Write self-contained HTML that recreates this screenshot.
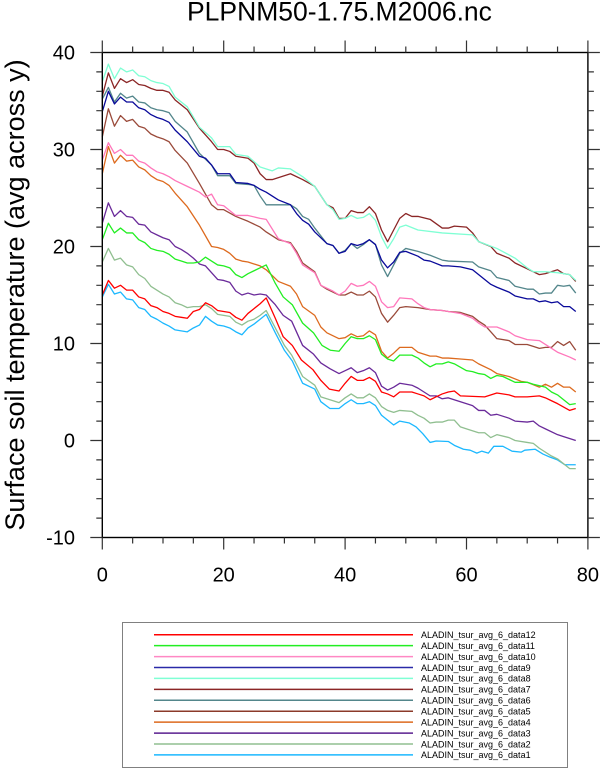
<!DOCTYPE html>
<html><head><meta charset="utf-8"><style>
html,body{margin:0;padding:0;background:#fff;}
svg{display:block;}
text{font-family:"Liberation Sans",Arial,sans-serif;fill:#000;}
</style></head><body>
<svg width="600" height="769" viewBox="0 0 600 769" xmlns="http://www.w3.org/2000/svg">
<rect width="600" height="769" fill="#fff"/>
<text x="187" y="20.5" font-size="26.5">PLPNM50-1.75.M2006.nc</text>
<text transform="translate(24,295) rotate(-90)" text-anchor="middle" font-size="27">Surface soil temperature (avg across y)</text>

<g transform="translate(102.3 440.5) scale(6.07 -9.7)" fill="none" stroke-width="1.3" stroke-linejoin="round">
<polyline vector-effect="non-scaling-stroke" stroke="#1cb8ff" points="0,14.8 1,16.1 2,15.1 3,15.3 4,14.6 5,14.5 6,13.7 7,13.5 8,12.8 9,12.5 10,12.1 11,11.8 12,11.4 13,11.3 14,11.2 15,11.6 16,11.9 17,12.8 18,12.3 19,11.9 20,11.8 21,11.6 22,11.2 23,10.9 24,11.6 25,12.0 26,12.5 27,13.0 28.5,11.1 30,9.3 31.3,8.2 33,5.9 35,5.3 36,4.0 37.5,3.3 39,3.3 40,3.8 41,4.2 42,3.8 43,3.8 44,4.0 45,3.6 46,2.6 47,2.1 48,1.6 49,2.0 50.6,1.8 51.7,1.4 52.8,0.7 54,-0.2 55,-0.05 57,-0.1 58,-0.5 59.5,-0.9 60.6,-1.0 61.7,-1.3 62.5,-1.1 63.6,-1.3 64.5,-0.6 66,-0.6 67.5,-1.1 69,-1.2 69.6,-1.0 71.3,-0.9 72.6,-1.4 73.7,-1.7 75,-2.0 76.2,-2.5 78,-2.5"/>
<polyline vector-effect="non-scaling-stroke" stroke="#90bf90" points="0,18.4 1,19.8 2,18.6 3,18.8 4,18.1 5,17.9 6,17.1 7,16.7 8,15.9 9,15.5 10,15.1 11,14.8 12,14.2 13,14.0 14,13.7 15,13.8 16,13.8 17,14.0 18,13.6 19,13.0 20,12.9 21,12.8 22,12.2 23,11.9 24,12.3 25,12.5 26,12.9 27,13.4 28.5,11.6 30,9.8 31.2,8.8 33,6.6 35,5.7 36,4.5 37.5,4.2 39,3.9 40,4.4 41,4.8 42,4.4 43,4.4 44,4.8 45,4.4 46,3.5 47,3.1 48,2.9 49,3.1 51,3.0 52,2.6 53,2.3 54,1.8 55,1.9 56,1.9 57,2.1 58,2.1 59,1.4 60,1.2 62,0.8 63,0.8 64,0.3 65,0.6 67,0.3 68,0.0 70,-0.2 71,-0.3 72,-0.8 74,-1.6 75,-1.9 76,-2.4 77,-2.9 78,-2.9"/>
<polyline vector-effect="non-scaling-stroke" stroke="#6a2a9a" points="0,22.4 1,24.5 2,23.1 3,23.7 4,23.1 5,23.0 6,22.3 7,22.2 8,21.5 9,21.2 10,20.9 11,20.7 12,20.0 13,19.7 14,19.3 15,18.8 16,18.2 17,18.0 19,16.6 20,16.5 21,16.3 22,15.4 23,15.0 24,15.2 25,15.0 26,15.1 27,15.0 28.5,14.0 29.8,12.9 31.2,12.3 33,9.8 34.8,8.9 36,8.0 37.5,7.4 39,6.9 40,7.2 41,7.5 42,7.0 43,7.2 44,7.5 45,7.0 46,5.6 47,5.2 48,5.5 49,5.9 51,5.7 52,5.4 53,5.0 54,4.6 55,4.6 56,4.3 57,4.4 59,4.0 61,3.6 62,3.1 63,3.1 64,2.6 65,2.7 67,2.3 68,2.0 70,1.9 71,2.0 72,1.5 73,1.2 75,0.6 76,0.4 78,0.0"/>
<polyline vector-effect="non-scaling-stroke" stroke="#dd6a1e" points="0,27.5 1,30.3 2,28.6 3,29.4 4,28.8 5,28.9 6,28.2 7,27.9 8,27.3 9,26.9 10,26.7 11,26.3 12,25.5 14,24.1 16,22.2 18,20.0 19,19.9 20,19.7 21,19.3 22,18.7 23,18.5 24,18.4 26,18.0 27,17.6 29,16.4 31,15.9 32,15.1 33,13.8 35,12.9 36,11.7 37,11.1 39,10.5 40,10.6 41,11.0 42,10.7 43,10.8 44,11.3 45,10.9 46,9.2 47,8.5 48,9.0 49,9.6 51,9.6 52,9.1 54,8.7 55,8.7 56,8.5 57,8.5 59,8.4 61,8.3 62,7.9 64,7.3 65,6.9 67,6.6 69,6.1 70,6.0 72,5.5 73,5.8 74,5.5 75,5.9 76,5.5 77,5.5 78,5.0"/>
<polyline vector-effect="non-scaling-stroke" stroke="#9a4a3a" points="0,31.3 1,34.2 2,32.4 3,33.5 4,32.9 5,33.1 6,32.4 7,32.2 8,31.6 9,31.3 10,31.1 11,30.8 12,29.9 14,28.6 16,26.5 18,24.3 19,23.8 20,23.8 22,23.1 24,22.6 26,22.0 27,21.5 29,20.7 31,20.4 32,19.5 33,18.3 35,17.4 36,16.0 37,15.6 39,15.0 40,15.0 41,15.3 42,15.0 43,15.0 44,15.4 45,14.8 46,13.1 47,12.2 48,12.9 49,13.7 50,13.8 52,13.7 54,13.5 56,13.4 57,13.3 59,13.2 61,12.8 62,12.3 63,11.9 64,11.2 65,10.5 67,10.3 68,9.9 70,9.9 71,9.7 72,9.5 73,9.6 74,9.6 75,10.2 76,9.8 77,10.2 78,9.3"/>
<polyline vector-effect="non-scaling-stroke" stroke="#53868b" points="0,35.2 1,36.4 2,34.9 3,35.8 4,35.3 5,35.5 6,34.9 7,34.8 8,34.3 9,34.1 10,34.0 11,33.8 12,32.9 14,31.8 16,29.6 18,28.4 19,27.3 21,27.3 22,26.5 24,26.4 25,26.3 26,25.2 27,24.3 29,24.3 31,24.3 32,23.9 33,23.1 34,22.8 35,21.9 37,20.3 38,20.1 39,19.3 40,19.6 41,20.3 42,19.8 43,20.2 44,20.7 45,20.2 46,18.1 47,16.9 48,18.1 49,19.3 50,19.8 52,19.5 54,19.1 56,18.6 57,18.5 61,18.4 62,17.9 64,17.5 65,16.8 67,16.5 68,15.9 70,15.6 71,15.6 72,15.1 73,15.2 74,15.2 75,16.0 76,15.9 77,16.0 78,15.2"/>
<polyline vector-effect="non-scaling-stroke" stroke="#8b2626" points="0,35.5 1,37.9 2,36.3 3,37.3 4,36.9 5,37.2 6,36.7 7,36.6 8,36.3 9,36.1 10,36.1 11,35.9 12,35.1 14,34.1 16,32.2 18,30.8 19,30.0 20,30.0 21,29.8 22,29.3 24,29.1 25,28.6 26,27.5 27,26.9 28,26.9 31,27.5 33,26.9 35,26.2 37,24.3 38,24.0 39,22.9 40,22.9 41,23.7 42,23.5 43,23.5 44,24.1 45,23.4 46,21.7 47,20.5 48,21.7 49,22.9 50,23.4 51,23.1 52,23.1 54,22.8 56,21.9 57,21.9 58,22.1 60,22.0 61,21.4 62,20.5 64,20.0 65,19.3 67,18.8 68,18.3 70,17.7 72,17.1 73,17.2 75,17.6 76,17.2 77,17.1 78,16.4"/>
<polyline vector-effect="non-scaling-stroke" stroke="#7fffd4" points="0,37.0 1,38.8 2,37.3 3,38.4 4,38.0 5,38.2 6,37.6 7,37.5 8,37.1 9,36.9 10,36.8 11,36.5 12,35.4 14,34.4 16,32.3 18,31.2 19,30.3 21,30.3 22,29.5 24,29.3 26,28.2 28,27.8 29,28.1 31,28.0 33,27.2 35,26.2 37,24.3 38,23.8 39,22.8 40,22.9 41,23.2 42,22.9 43,23.0 44,23.4 45,22.7 46,21.0 47,19.8 48,20.8 49,22.0 50,22.2 52,21.7 56,21.4 61,21.2 62,20.5 65,19.8 68,18.8 70,17.8 71,17.4 73,17.4 75,17.3 77,17.1 78,16.5"/>
<polyline vector-effect="non-scaling-stroke" stroke="#0a0a9a" points="0,33.9 1,36.0 2,34.7 3,35.4 4,34.9 5,34.9 6,34.3 7,34.1 8,33.6 9,33.3 10,33.1 11,32.8 12,32.0 14,30.8 16,29.3 17,29.1 18,28.4 19,27.5 21,27.5 22,26.6 24,26.5 25,26.3 26,25.9 27,25.6 28,25.2 29,24.8 31,24.3 32,23.4 33,22.7 34,22.3 35,21.5 37,20.3 38,20.1 39,19.3 40,19.5 41,20.3 42,20.1 43,20.3 44,20.7 45,20.2 46,18.6 47,17.8 48,18.4 49,19.4 50,19.5 52,19.0 53,18.6 54,18.5 56,18.0 57,18.0 59,17.9 61,17.6 62,17.1 64,16.1 65,15.8 67,15.3 68,14.9 70,14.6 71,14.6 72,14.3 73,14.4 74,14.2 75,14.3 76,13.8 77,13.8 78,13.3"/>
<polyline vector-effect="non-scaling-stroke" stroke="#ff77bb" points="0,28.9 1,30.7 2,29.6 3,30.0 4,29.4 5,29.4 6,28.8 7,28.6 8,28.1 9,27.7 10,27.5 11,27.2 12,26.8 14,26.2 16,25.6 17,25.1 18,25.4 19,24.3 20,24.2 22,23.2 24,23.2 26,22.9 27,22.8 29,20.8 31,20.3 32,19.3 33,18.1 35,17.3 36,16.0 38,15.4 39,15.0 40,15.4 41,16.2 42,15.9 43,16.0 44,16.4 45,15.9 46,14.3 47,13.7 48,13.8 49,14.7 51,14.6 52,14.1 53,13.7 54,13.5 56,13.4 57,13.3 59,13.1 61,12.6 62,12.1 63,11.7 65,11.7 67,11.2 68,10.8 70,10.4 72,10.3 73,9.9 74,9.5 75,9.1 77,8.6 78,8.3"/>
<polyline vector-effect="non-scaling-stroke" stroke="#22ee22" points="0,20.7 1,22.4 2,21.4 3,21.9 4,21.4 5,21.4 6,20.7 7,20.4 8,19.8 9,19.6 10,19.5 11,19.2 12,18.7 13,18.5 14,18.3 15,18.3 16,18.4 17,18.9 18,18.5 19,18.1 20,18.0 21,17.8 22,17.1 23,16.8 24,17.2 25,17.5 26,17.8 27,18.1 28.5,16.2 29.8,14.8 31.3,14.0 33,12.1 34.8,11.1 36.2,9.8 37.6,9.3 39,9.2 40,10.0 41,10.7 42,10.5 43,10.5 44,10.8 45,10.4 46,8.9 47,8.4 48,8.2 49,8.8 51,8.8 52,8.5 53,8.0 54,7.6 55,7.9 56,7.9 57,8.1 58,7.9 60,7.2 61,7.1 62,6.9 63,6.8 64,6.4 65,6.7 66,6.6 67,6.3 68,6.0 70,6.0 71,5.8 73,5.5 74,5.0 75,4.7 76,4.2 77,3.7 78,3.8"/>
<polyline vector-effect="non-scaling-stroke" stroke="#ff0000" points="0,15.0 1,16.5 2,15.7 3,16.0 4,15.5 5,15.5 6,14.8 7,14.6 8,13.9 9,13.7 10,13.3 11,13.1 12,12.8 13,12.7 14,12.6 15,13.3 16,13.5 17,14.2 18,13.9 19,13.4 20,13.3 21,13.2 22,12.7 23,12.4 24,13.1 25,13.6 26,14.1 27,14.7 28.5,12.6 29.8,10.7 31.3,9.8 32.8,8.3 34.7,7.3 36,6.2 37.4,5.3 39,5.1 40,5.9 41,6.6 42,6.2 43,6.2 44,6.5 45,6.1 46,5.0 47,4.8 48,4.5 49,5.0 51,5.0 52,4.8 53,4.6 54,4.2 55,4.5 56,4.8 57,5.0 58,5.1 59,4.6 63,4.5 65,4.9 67,4.7 68,4.5 70,4.5 72,4.6 73,4.4 74,4.1 75,3.8 77,3.1 78,3.3"/>
</g>

<!-- frame -->
<rect x="102.3" y="52.5" width="485.6" height="485" fill="none" stroke="#000" stroke-width="1.4"/>
<!-- ticks -->
<g stroke="#333" stroke-width="1.2" fill="none">
<path d="M102.3 537.5V549.5M223.7 537.5V549.5M345.1 537.5V549.5M466.5 537.5V549.5M587.9 537.5V549.5"/>
<path d="M132.65 537.5V543.5M163 537.5V543.5M193.35 537.5V543.5M254.05 537.5V543.5M284.4 537.5V543.5M314.75 537.5V543.5M375.45 537.5V543.5M405.8 537.5V543.5M436.15 537.5V543.5M496.85 537.5V543.5M527.2 537.5V543.5M557.55 537.5V543.5"/>
<path d="M102.3 52.5V40.5M223.7 52.5V40.5M345.1 52.5V40.5M466.5 52.5V40.5M587.9 52.5V40.5"/>
<path d="M132.65 52.5V46.5M163 52.5V46.5M193.35 52.5V46.5M254.05 52.5V46.5M284.4 52.5V46.5M314.75 52.5V46.5M375.45 52.5V46.5M405.8 52.5V46.5M436.15 52.5V46.5M496.85 52.5V46.5M527.2 52.5V46.5M557.55 52.5V46.5"/>
<path d="M102.3 52.5H90.3M102.3 149.5H90.3M102.3 246.5H90.3M102.3 343.5H90.3M102.3 440.5H90.3M102.3 537.5H90.3"/>
<path d="M102.3 71.9H96.3M102.3 91.3H96.3M102.3 110.7H96.3M102.3 130.1H96.3M102.3 168.9H96.3M102.3 188.3H96.3M102.3 207.7H96.3M102.3 227.1H96.3M102.3 265.9H96.3M102.3 285.3H96.3M102.3 304.7H96.3M102.3 324.1H96.3M102.3 362.9H96.3M102.3 382.3H96.3M102.3 401.7H96.3M102.3 421.1H96.3M102.3 459.9H96.3M102.3 479.3H96.3M102.3 498.7H96.3M102.3 518.1H96.3"/>
<path d="M587.9 52.5H599.9M587.9 149.5H599.9M587.9 246.5H599.9M587.9 343.5H599.9M587.9 440.5H599.9M587.9 537.5H599.9"/>
<path d="M587.9 71.9H593.9M587.9 91.3H593.9M587.9 110.7H593.9M587.9 130.1H593.9M587.9 168.9H593.9M587.9 188.3H593.9M587.9 207.7H593.9M587.9 227.1H593.9M587.9 265.9H593.9M587.9 285.3H593.9M587.9 304.7H593.9M587.9 324.1H593.9M587.9 362.9H593.9M587.9 382.3H593.9M587.9 401.7H593.9M587.9 421.1H593.9M587.9 459.9H593.9M587.9 479.3H593.9M587.9 498.7H593.9M587.9 518.1H593.9"/>
</g>
<!-- tick labels -->
<g font-size="20" text-anchor="end">
<text x="75" y="59.7">40</text>
<text x="75" y="156.7">30</text>
<text x="75" y="253.7">20</text>
<text x="75" y="350.7">10</text>
<text x="75" y="447.7">0</text>
<text x="75" y="544.7">-10</text>
</g>
<g font-size="20" text-anchor="middle">
<text x="102.3" y="581.5">0</text>
<text x="223.7" y="581.5">20</text>
<text x="345.1" y="581.5">40</text>
<text x="466.5" y="581.5">60</text>
<text x="587.9" y="581.5">80</text>
</g>

<!-- legend -->
<rect x="122.5" y="622.5" width="445" height="145" fill="none" stroke="#808080" stroke-width="1"/>
<g stroke-width="1.5">
<line x1="154" x2="413" y1="634.7" y2="634.7" stroke="#ff0000"/>
<line x1="154" x2="413" y1="645.6" y2="645.6" stroke="#22ee22"/>
<line x1="154" x2="413" y1="656.6" y2="656.6" stroke="#ff88c4"/>
<line x1="154" x2="413" y1="667.5" y2="667.5" stroke="#2a2aa8"/>
<line x1="154" x2="413" y1="678.4" y2="678.4" stroke="#7fffd4"/>
<line x1="154" x2="413" y1="689.4" y2="689.4" stroke="#8b2626"/>
<line x1="154" x2="413" y1="700.3" y2="700.3" stroke="#53868b"/>
<line x1="154" x2="413" y1="711.2" y2="711.2" stroke="#8b3a2a"/>
<line x1="154" x2="413" y1="722.1" y2="722.1" stroke="#dd6a1e"/>
<line x1="154" x2="413" y1="733.1" y2="733.1" stroke="#5a1f8f"/>
<line x1="154" x2="413" y1="744.0" y2="744.0" stroke="#90bf90"/>
<line x1="154" x2="413" y1="754.9" y2="754.9" stroke="#1cb8ff"/>
</g>
<g font-size="9">
<text x="421" y="638">ALADIN_tsur_avg_6_data12</text>
<text x="421" y="648.9">ALADIN_tsur_avg_6_data11</text>
<text x="421" y="659.9">ALADIN_tsur_avg_6_data10</text>
<text x="421" y="670.8">ALADIN_tsur_avg_6_data9</text>
<text x="421" y="681.7">ALADIN_tsur_avg_6_data8</text>
<text x="421" y="692.7">ALADIN_tsur_avg_6_data7</text>
<text x="421" y="703.6">ALADIN_tsur_avg_6_data6</text>
<text x="421" y="714.5">ALADIN_tsur_avg_6_data5</text>
<text x="421" y="725.4">ALADIN_tsur_avg_6_data4</text>
<text x="421" y="736.4">ALADIN_tsur_avg_6_data3</text>
<text x="421" y="747.3">ALADIN_tsur_avg_6_data2</text>
<text x="421" y="758.2">ALADIN_tsur_avg_6_data1</text>
</g>
</svg>
</body></html>
